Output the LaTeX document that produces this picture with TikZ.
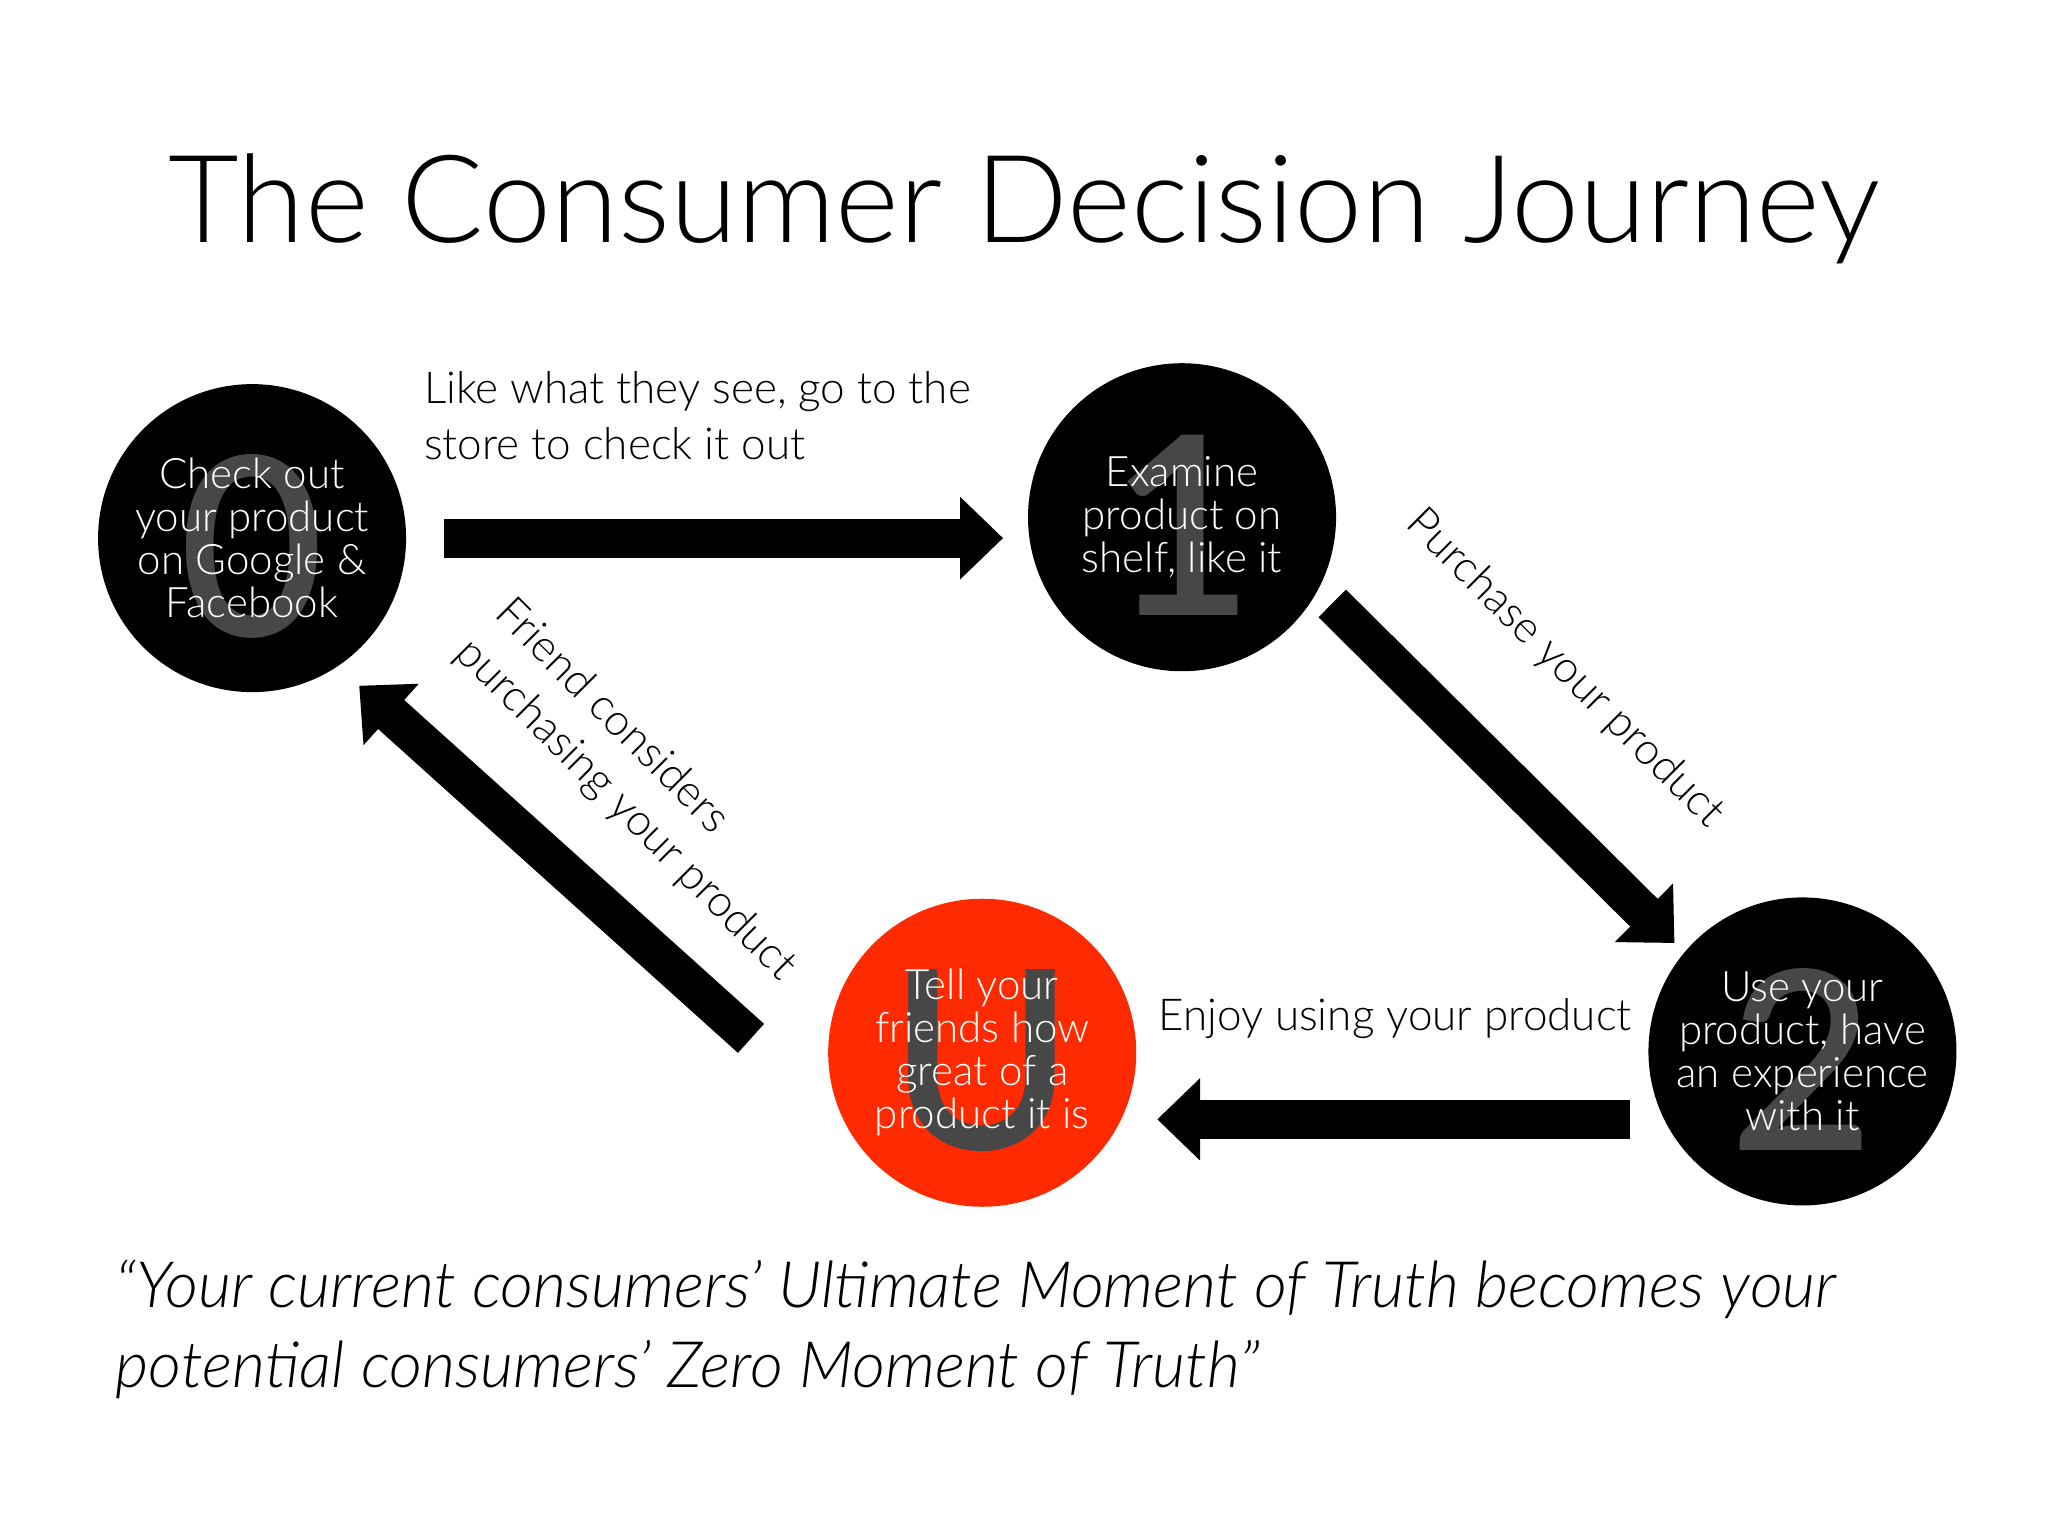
\documentclass[tikz,border=0pt]{standalone}
\usepackage{fontspec}
\setmainfont{Lato Light}
\usetikzlibrary{arrows.meta}
\definecolor{ured}{HTML}{FF2A00}
\begin{document}
\begin{tikzpicture}[x=1.306pt,y=-1.306pt,
  circ/.style={circle,fill=black,minimum size=308pt,inner sep=0pt},
  digit/.style={text=black!72,font=\fontsize{250}{250}\selectfont\bfseries},
  ctext/.style={text=white,align=center,font=\fontsize{42}{43}\selectfont},
  lbl/.style={align=left,font=\fontsize{44}{56}\selectfont},
  bigarrow/.style={line width=39pt,-{Triangle[width=80pt,length=43pt]}}]
\useasboundingbox (0,0) rectangle (1568,1176);
\node (title) at (784,160) {\fontsize{122}{122}\selectfont The Consumer Decision Journey};
\node[circ] (c0) at (193,412) {};
\node[circ] (c1) at (905,396) {};
\node[circ] (c2) at (1380,805) {};
\node[circ,fill=ured] (cu) at (752,806) {};
\node[digit] at (193,418) {0};
\node[digit] at (905,402) {1};
\node[digit] at (1380,811) {2};
\node[digit] at (752,812) {U};
\node[ctext] at (c0) {Check out\\your product\\on Google \&\\Facebook};
\node[ctext] at (c1) {Examine\\product on\\shelf, like it};
\node[ctext] at (c2) {Use your\\product, have\\an experience\\with it};
\node[ctext] at (cu) {Tell your\\friends how\\great of a\\product it is};
\coordinate (a0s) at (340,412); \coordinate (a0e) at (768,412);
\coordinate (a1s) at (1020,462); \coordinate (a1e) at (1282,722);
\coordinate (a2s) at (1248,857); \coordinate (a2e) at (886,857);
\coordinate (a3s) at (575,795); \coordinate (a3e) at (275,525);
\draw[bigarrow] (a0s) -- (a0e);
\draw[bigarrow] (a1s) -- (a1e);
\draw[bigarrow] (a2s) -- (a2e);
\draw[bigarrow] (a3s) -- (a3e);
\node[lbl,anchor=north west] (l1) at (322,282) {Like what they see, go to the\\store to check it out};
\node[lbl,rotate=-45] (l2) at (1198,512) {Purchase your product};
\node[lbl] (l3) at (1068,780) {Enjoy using your product};
\node[lbl,rotate=-45] (l4) at (494,605) {Friend considers\\purchasing your product};
\node[anchor=north west,align=left,font=\fontsize{64}{80}\selectfont\itshape] (q) at (86,962)
 {``Your current consumers' Ultimate Moment of Truth becomes your\\potential consumers' Zero Moment of Truth''};
\end{tikzpicture}
\end{document}
